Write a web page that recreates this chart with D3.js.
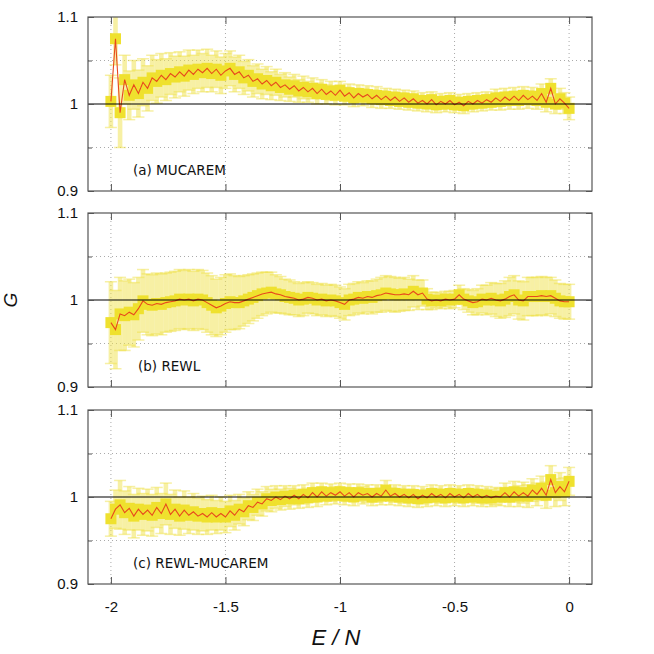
<!DOCTYPE html>
<html>
<head>
<meta charset="utf-8">
<script src="https://cdn.jsdelivr.net/npm/d3@7"></script>
<style>
  body { margin: 0; background: #fff; }
  svg { display: block; font-family: 'Liberation Sans', Arial, sans-serif; }
</style>
</head>
<body>
<script>
// energy bins (E / N)
const energy = [
  -2, -1.98, -1.96, -1.94, -1.92, -1.9, -1.88, -1.86, -1.84, -1.82,
  -1.8, -1.78, -1.76, -1.74, -1.72, -1.7, -1.68, -1.66, -1.64, -1.62,
  -1.6, -1.58, -1.56, -1.54, -1.52, -1.5, -1.48, -1.46, -1.44, -1.42,
  -1.4, -1.38, -1.36, -1.34, -1.32, -1.3, -1.28, -1.26, -1.24, -1.22,
  -1.2, -1.18, -1.16, -1.14, -1.12, -1.1, -1.08, -1.06, -1.04, -1.02,
  -1, -0.98, -0.96, -0.94, -0.92, -0.9, -0.88, -0.86, -0.84, -0.82,
  -0.8, -0.78, -0.76, -0.74, -0.72, -0.7, -0.68, -0.66, -0.64, -0.62,
  -0.6, -0.58, -0.56, -0.54, -0.52, -0.5, -0.48, -0.46, -0.44, -0.42,
  -0.4, -0.38, -0.36, -0.34, -0.32, -0.3, -0.28, -0.26, -0.24, -0.22,
  -0.2, -0.18, -0.16, -0.14, -0.12, -0.1, -0.08, -0.06, -0.04, -0.02,
  0,
];

// (a) MUCAREM
const gMucarem = [
  1.003, 1.075, 0.990, 1.028, 1.010, 1.022, 1.012, 1.025, 1.018, 1.030,
  1.026, 1.033, 1.028, 1.035, 1.031, 1.037, 1.032, 1.039, 1.034, 1.040,
  1.036, 1.041, 1.035, 1.040, 1.033, 1.038, 1.041, 1.034, 1.037, 1.030,
  1.033, 1.026, 1.029, 1.023, 1.027, 1.021, 1.025, 1.019, 1.022, 1.017,
  1.021, 1.015, 1.019, 1.014, 1.018, 1.012, 1.017, 1.011, 1.015, 1.010,
  1.016, 1.009, 1.013, 1.007, 1.012, 1.008, 1.011, 1.006, 1.010, 1.005,
  1.009, 1.004, 1.008, 1.003, 1.007, 1.002, 1.006, 1.001, 1.004, 1.000,
  1.005, 0.999, 1.003, 1.000, 1.004, 0.999, 1.002, 0.998, 1.003, 1.000,
  1.004, 1.001, 1.005, 1.002, 1.007, 1.003, 1.008, 1.004, 1.009, 1.004,
  1.010, 1.005, 1.009, 1.004, 1.012, 1.002, 1.018, 1.000, 1.006, 1.001,
  0.995,
];
const errMucarem = [
  0.030, 0.030, 0.040, 0.028, 0.028, 0.028, 0.027, 0.027, 0.026, 0.026,
  0.025, 0.025, 0.024, 0.024, 0.024, 0.023, 0.023, 0.023, 0.022, 0.022,
  0.022, 0.022, 0.021, 0.021, 0.021, 0.020, 0.020, 0.020, 0.019, 0.019,
  0.018, 0.018, 0.017, 0.017, 0.016, 0.016, 0.015, 0.015, 0.014, 0.014,
  0.013, 0.013, 0.013, 0.012, 0.012, 0.012, 0.011, 0.011, 0.011, 0.011,
  0.010, 0.010, 0.010, 0.010, 0.010, 0.010, 0.010, 0.010, 0.010, 0.010,
  0.009, 0.009, 0.009, 0.009, 0.009, 0.009, 0.009, 0.009, 0.009, 0.009,
  0.009, 0.009, 0.009, 0.009, 0.009, 0.009, 0.009, 0.009, 0.009, 0.009,
  0.009, 0.009, 0.009, 0.009, 0.010, 0.010, 0.010, 0.010, 0.010, 0.010,
  0.010, 0.010, 0.010, 0.010, 0.011, 0.011, 0.011, 0.011, 0.012, 0.012,
  0.013,
];

// (b) REWL
const gRewl = [
  0.974, 0.966, 0.984, 0.982, 0.986, 0.983, 0.990, 0.999, 0.995, 0.994,
  0.996, 0.995, 0.997, 0.998, 0.999, 1.001, 1.000, 1.001, 0.999, 1.001,
  1.000, 0.997, 0.994, 0.991, 0.993, 0.996, 0.998, 0.997, 0.997, 0.999,
  1.001, 1.003, 1.005, 1.007, 1.008, 1.009, 1.007, 1.006, 1.004, 1.003,
  1.002, 1.000, 1.001, 1.003, 1.002, 1.000, 1.001, 0.999, 1.000, 0.999,
  0.997, 0.995, 1.000, 1.001, 1.003, 1.002, 1.004, 1.003, 1.005, 1.006,
  1.008, 1.007, 1.006, 1.006, 1.007, 1.006, 1.010, 1.006, 1.008, 1.001,
  0.999, 1.000, 0.999, 1.001, 1.000, 1.001, 1.006, 1.001, 0.999, 0.997,
  0.998, 1.001, 1.000, 1.002, 1.000, 0.999, 1.001, 1.004, 1.006, 1.000,
  0.999, 1.004, 1.004, 1.004, 1.005, 1.004, 1.005, 1.002, 0.999, 0.998,
  0.998,
];
const errRewl = [
  0.047, 0.045, 0.042, 0.040, 0.038, 0.037, 0.036, 0.036, 0.035, 0.035,
  0.035, 0.035, 0.034, 0.034, 0.034, 0.034, 0.034, 0.034, 0.034, 0.034,
  0.034, 0.034, 0.034, 0.033, 0.033, 0.033, 0.032, 0.031, 0.030, 0.029,
  0.028, 0.027, 0.026, 0.025, 0.024, 0.023, 0.022, 0.021, 0.020, 0.020,
  0.019, 0.019, 0.019, 0.018, 0.018, 0.018, 0.018, 0.018, 0.018, 0.018,
  0.018, 0.018, 0.018, 0.018, 0.018, 0.018, 0.018, 0.019, 0.019, 0.020,
  0.020, 0.020, 0.020, 0.019, 0.019, 0.018, 0.018, 0.017, 0.015, 0.012,
  0.010, 0.009, 0.009, 0.009, 0.010, 0.010, 0.011, 0.012, 0.013, 0.014,
  0.015, 0.016, 0.017, 0.018, 0.019, 0.020, 0.021, 0.022, 0.022, 0.022,
  0.022, 0.022, 0.022, 0.022, 0.022, 0.022, 0.021, 0.021, 0.020, 0.020,
  0.020,
];

// (c) REWL-MUCAREM
const gRewlMucarem = [
  0.975, 0.986, 0.991, 0.982, 0.987, 0.978, 0.986, 0.980, 0.985, 0.979,
  0.988, 0.981, 0.992, 0.980, 0.986, 0.978, 0.985, 0.979, 0.983, 0.978,
  0.981, 0.977, 0.982, 0.977, 0.981, 0.977, 0.984, 0.979, 0.986, 0.983,
  0.990, 0.988, 0.994, 0.992, 0.998, 0.996, 1.000, 0.997, 1.001, 0.998,
  1.002, 0.998, 1.003, 0.999, 1.005, 1.000, 1.006, 1.001, 1.005, 1.002,
  1.006, 1.001, 1.005, 1.000, 1.005, 1.002, 1.004, 1.000, 1.004, 1.001,
  1.008, 1.001, 1.004, 1.000, 1.003, 0.999, 1.003, 0.998, 1.002, 0.999,
  1.004, 1.000, 1.003, 0.999, 1.004, 1.000, 1.003, 0.999, 1.004, 1.000,
  1.003, 0.999, 1.002, 0.999, 1.001, 1.000, 1.005, 1.000, 1.006, 1.001,
  1.005, 1.001, 1.008, 1.003, 1.010, 1.002, 1.020, 1.005, 1.012, 1.006,
  1.018,
];
const errRewlMucarem = [
  0.020, 0.022, 0.028, 0.025, 0.025, 0.025, 0.024, 0.024, 0.024, 0.024,
  0.023, 0.023, 0.024, 0.023, 0.022, 0.022, 0.022, 0.021, 0.021, 0.021,
  0.020, 0.020, 0.020, 0.019, 0.019, 0.018, 0.018, 0.017, 0.017, 0.016,
  0.016, 0.015, 0.015, 0.014, 0.014, 0.013, 0.013, 0.012, 0.012, 0.012,
  0.011, 0.011, 0.011, 0.011, 0.011, 0.011, 0.010, 0.010, 0.010, 0.010,
  0.010, 0.010, 0.010, 0.010, 0.010, 0.010, 0.010, 0.010, 0.010, 0.010,
  0.011, 0.010, 0.010, 0.010, 0.010, 0.010, 0.010, 0.010, 0.010, 0.010,
  0.010, 0.010, 0.010, 0.010, 0.010, 0.010, 0.010, 0.010, 0.010, 0.010,
  0.010, 0.010, 0.010, 0.010, 0.010, 0.010, 0.011, 0.011, 0.012, 0.012,
  0.012, 0.013, 0.013, 0.013, 0.014, 0.015, 0.016, 0.016, 0.016, 0.016,
  0.016,
];

const panelLabels = ['(a) MUCAREM', '(b) REWL', '(c) REWL-MUCAREM'];
const xTicks = [-2, -1.5, -1, -0.5, 0];
const yTicks = [0.9, 1, 1.1];
const yMinorTicks = [0.95, 1.05];

// set the dimensions of the panels
const left = 88;
const right = 592;
const panelTops = [17, 213, 410];
const panelHeight = 174;

const frameColor = '#555';
const barColor = '#efe14a';
const pointColor = '#efe12e';
const lineColor = '#e8491d';

const x = d3.scaleLinear().domain([-2.1, 0.1]).range([left, right]);

const svg = d3.select('body').append('svg')
  .attr('width', 654)
  .attr('height', 654);

const panels = [
  { g: gMucarem, err: errMucarem },
  { g: gRewl, err: errRewl },
  { g: gRewlMucarem, err: errRewlMucarem },
];

panels.forEach((p, k) => {
  const top = panelTops[k];
  const bottom = top + panelHeight;
  const y = d3.scaleLinear().domain([0.9, 1.1]).range([bottom, top]);
  const data = energy.map((e, i) => ({ e, g: p.g[i], err: p.err[i] }));

  const panel = svg.append('g');

  svg.append('clipPath')
    .attr('id', `clip${k}`)
    .append('rect')
    .attr('x', left)
    .attr('y', top)
    .attr('width', right - left)
    .attr('height', panelHeight);

  // grid
  panel.selectAll('.vgrid')
    .data(xTicks)
    .enter().append('line')
    .attr('x1', d => x(d))
    .attr('x2', d => x(d))
    .attr('y1', top)
    .attr('y2', bottom)
    .attr('stroke', '#aaa')
    .attr('stroke-dasharray', '1,3');

  panel.selectAll('.hgrid')
    .data(yMinorTicks)
    .enter().append('line')
    .attr('x1', left)
    .attr('x2', right)
    .attr('y1', d => y(d))
    .attr('y2', d => y(d))
    .attr('stroke', '#aaa')
    .attr('stroke-dasharray', '1,3');

  const plot = panel.append('g').attr('clip-path', `url(#clip${k})`);

  // error bars
  const bars = plot.append('g')
    .attr('stroke', barColor)
    .attr('stroke-opacity', 0.5);
  bars.selectAll('.bar')
    .data(data)
    .enter().append('line')
    .attr('x1', d => x(d.e))
    .attr('x2', d => x(d.e))
    .attr('y1', d => y(d.g - d.err))
    .attr('y2', d => y(d.g + d.err))
    .attr('stroke-width', 4.6);
  bars.selectAll('.capTop')
    .data(data)
    .enter().append('line')
    .attr('x1', d => x(d.e) - 6)
    .attr('x2', d => x(d.e) + 6)
    .attr('y1', d => y(d.g + d.err))
    .attr('y2', d => y(d.g + d.err))
    .attr('stroke-width', 1.5);
  bars.selectAll('.capBottom')
    .data(data)
    .enter().append('line')
    .attr('x1', d => x(d.e) - 6)
    .attr('x2', d => x(d.e) + 6)
    .attr('y1', d => y(d.g - d.err))
    .attr('y2', d => y(d.g - d.err))
    .attr('stroke-width', 1.5);

  // point markers
  plot.selectAll('.pt')
    .data(data)
    .enter().append('rect')
    .attr('x', d => x(d.e) - 5.5)
    .attr('y', d => y(d.g) - 5.5)
    .attr('width', 11)
    .attr('height', 11)
    .attr('fill', pointColor);

  // reference line at G = 1
  panel.append('line')
    .attr('x1', left)
    .attr('x2', right)
    .attr('y1', y(1))
    .attr('y2', y(1))
    .attr('stroke', '#000')
    .attr('stroke-width', 1.2);

  // the G line
  const valueline = d3.line()
    .x(d => x(d.e))
    .y(d => y(d.g));
  plot.append('path')
    .datum(data)
    .attr('fill', 'none')
    .attr('stroke', lineColor)
    .attr('stroke-width', 1.1)
    .attr('d', valueline);

  // axes with inward ticks
  const yAxis = panel.append('g')
    .attr('transform', `translate(${left},0)`)
    .call(d3.axisLeft(y).tickValues(yTicks).tickSizeInner(-6).tickSizeOuter(0)
      .tickPadding(10).tickFormat(d => String(d)));
  yAxis.selectAll('text').attr('font-size', 15).attr('fill', '#111')
    .attr('font-family', "'Liberation Sans', Arial, sans-serif");

  panel.append('g')
    .attr('transform', `translate(${left},0)`)
    .call(d3.axisLeft(y).tickValues(yMinorTicks).tickSizeInner(-4).tickSizeOuter(0)
      .tickFormat(''));
  panel.append('g')
    .attr('transform', `translate(${right},0)`)
    .call(d3.axisRight(y).tickValues(yTicks).tickSizeInner(-6).tickSizeOuter(0)
      .tickFormat(''));
  panel.append('g')
    .attr('transform', `translate(${right},0)`)
    .call(d3.axisRight(y).tickValues(yMinorTicks).tickSizeInner(-4).tickSizeOuter(0)
      .tickFormat(''));

  const xAxis = panel.append('g')
    .attr('transform', `translate(0,${bottom})`)
    .call(d3.axisBottom(x).tickValues(xTicks).tickSizeInner(-7).tickSizeOuter(0)
      .tickPadding(17).tickFormat(k === 2 ? (d => String(d)) : ''));
  xAxis.selectAll('text').attr('font-size', 15).attr('fill', '#111')
    .attr('font-family', "'Liberation Sans', Arial, sans-serif");
  panel.append('g')
    .attr('transform', `translate(0,${top})`)
    .call(d3.axisTop(x).tickValues(xTicks).tickSizeInner(-7).tickSizeOuter(0)
      .tickFormat(''));

  panel.selectAll('.domain').remove();
  panel.selectAll('.tick line').attr('stroke', frameColor);

  // frame
  panel.append('rect')
    .attr('x', left)
    .attr('y', top)
    .attr('width', right - left)
    .attr('height', panelHeight)
    .attr('fill', 'none')
    .attr('stroke', frameColor)
    .attr('stroke-width', 1.2);

  // panel label
  panel.append('text')
    .attr('x', k === 1 ? left + 50 : left + 45)
    .attr('y', top + 158)
    .attr('font-family', "'DejaVu Sans', sans-serif")
    .attr('font-size', 13.5)
    .attr('fill', '#111')
    .text(panelLabels[k]);
});

// axis titles
svg.append('text')
  .attr('x', (left + right) / 2 - 4)
  .attr('y', 645)
  .attr('text-anchor', 'middle')
  .attr('font-size', 22)
  .attr('font-style', 'italic')
  .attr('fill', '#111')
  .text('E / N');

svg.append('text')
  .attr('transform', `translate(17,${(panelTops[1] + panelHeight / 2)}) rotate(-90)`)
  .attr('text-anchor', 'middle')
  .attr('font-size', 19)
  .attr('font-style', 'italic')
  .attr('fill', '#111')
  .text('G');
</script>
</body>
</html>
